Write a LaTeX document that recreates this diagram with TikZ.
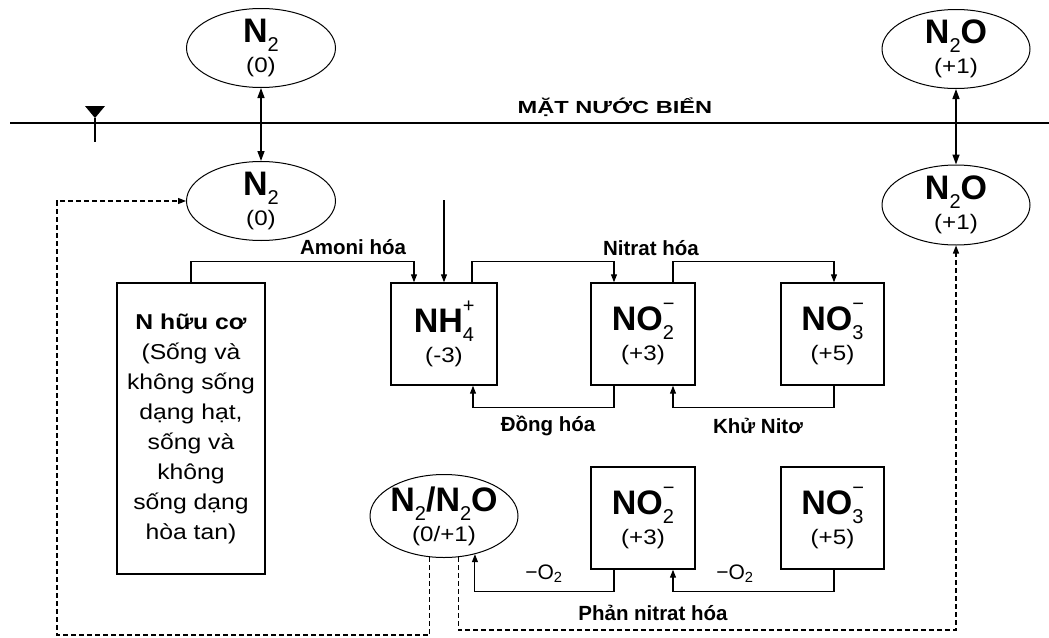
\documentclass[tikz,border=0pt]{standalone}
\usepackage{fontspec}
\setmainfont{Liberation Sans}
\newfontfamily\widefont[FakeStretch=1.15]{Liberation Sans}
\newfontfamily\widerfont[FakeStretch=1.35]{Liberation Sans}
\usepackage{tikz}
\usetikzlibrary{positioning,arrows.meta,shapes.geometric}
\newcommand\chsub[1]{\raisebox{-0.27em}{\fontsize{20}{20}\selectfont\mdseries #1}}
\newcommand\chion[2]{\makebox[0pt][l]{\raisebox{0.6em}{\fontsize{20}{20}\selectfont\mdseries #2}}\chsub{#1}}
\newcommand\formula[1]{{\normalfont\fontsize{34}{34}\selectfont\bfseries #1}}

\begin{document}
\begin{tikzpicture}[x=1pt,y=-1pt,>={Triangle[length=8pt,width=6pt]},
  gasell/.style={draw,ellipse,line width=1pt,inner xsep=-7pt,inner ysep=-7pt,minimum width=149pt,minimum height=79pt,align=center,font=\widefont\fontsize{21}{30}\selectfont},
  ionbox/.style={draw,rectangle,line width=1.4pt,inner sep=0pt,minimum width=104pt,minimum height=102pt,align=center,font=\widefont\fontsize{21}{30}\selectfont},
  flow/.style={->,line width=1.1pt},
  gasflow/.style={{Triangle[length=10pt,width=7pt]}-{Triangle[length=10pt,width=7pt]},line width=1.4pt},
  loop/.style={->,line width=1.2pt,dash pattern=on 5pt off 3pt},
  proc/.style={font=\fontsize{20.5}{24}\selectfont\bfseries}]
\useasboundingbox (0,0) rectangle (1049,637);
% ---------- sea surface ----------
\coordinate (seaw) at (10,123);
\coordinate (seae) at (1049,123);
\draw[line width=1.6pt] (seaw) -- (seae);
\fill (85,106) -- (105,106) -- (95,118) -- cycle;
\draw[line width=1.2pt] (95,118) -- (95,142);
\node[font=\widerfont\fontsize{17.5}{20}\selectfont\bfseries] (lblsea) at (615,107) {MẶT NƯỚC BIỂN};
% ---------- gases ----------
\node[gasell] (n2air) at (261,48) {\formula{N\chsub{2}}\\(0)};
\node[gasell] (n2sea) at (261,201) {\formula{N\chsub{2}}\\(0)};
\node[gasell,minimum width=148pt] (n2oair) at (956,49) {\formula{N\chsub{2}O}\\(+1)};
\node[gasell,minimum width=148pt,minimum height=80pt] (n2osea) at (956,205) {\formula{N\chsub{2}O}\\(+1)};
\draw[gasflow] (n2air) -- (n2sea);
\draw[gasflow] (n2oair) -- (n2osea);
% ---------- upper cycle ----------
\node[ionbox,minimum width=148pt,minimum height=291pt,font=\widefont\fontsize{21.5}{30}\selectfont] (norg) at (191,428.5) {\textbf{N hữu cơ}\\(Sống và\\không sống\\dạng hạt,\\sống và\\không\\sống dạng\\hòa tan)};
\node[ionbox,minimum width=106pt] (nh4) at (444,334) {\formula{NH\chion{4}{+}}\\(-3)};
\node[ionbox] (no2) at (643,334) {\formula{NO\chion{2}{−}}\\(+3)};
\node[ionbox,minimum width=103pt] (no3) at (832.5,334) {\formula{NO\chion{3}{−}}\\(+5)};
\coordinate (nsrc) at (444,200);
\draw[flow] (nsrc) -- (nh4.north);
\draw[flow] (norg.north) -- ++(0,-21) -| ([xshift=-30pt]nh4.north);
\draw[flow] ([xshift=28pt]nh4.north) -- ++(0,-21) -| ([xshift=-29pt]no2.north);
\draw[flow] ([xshift=30pt]no2.north) -- ++(0,-21) -| ([xshift=1.5pt]no3.north);
\draw[flow] ([xshift=-29pt]no2.south) -- ++(0,22) -| ([xshift=29pt]nh4.south);
\draw[flow] ([xshift=1.5pt]no3.south) -- ++(0,22) -| ([xshift=30pt]no2.south);
\node[proc] (lblamoni) at (353,247) {Amoni hóa};
\node[proc] (lblnitrat) at (651,248) {Nitrat hóa};
\node[proc] (lbldong) at (548,426) {Đồng hóa};
\node[proc] (lblkhu) at (758,426) {Khử Nitơ};
% ---------- denitrification ----------
\node[gasell,minimum width=148pt,minimum height=83pt] (mix) at (444,516) {\formula{N\chsub{2}/N\chsub{2}O}\\(0/+1)};
\node[ionbox] (no2b) at (643,518) {\formula{NO\chion{2}{−}}\\(+3)};
\node[ionbox,minimum width=103pt] (no3b) at (832.5,518) {\formula{NO\chion{3}{−}}\\(+5)};
\draw[flow] ([xshift=-29pt]no2b.south) -- ++(0,22) -| (mix.-51);
\draw[flow] ([xshift=1.5pt]no3b.south) -- ++(0,22) -| ([xshift=30pt]no2b.south);
\node[font=\fontsize{21}{24}\selectfont] (lbloxa) at (544,574) {−O\textsubscript{2}};
\node[font=\fontsize{21}{24}\selectfont] (lbloxb) at (735,574) {−O\textsubscript{2}};
\node[proc] (lblphan) at (653,613) {Phản nitrat hóa};
% ---------- return to gases ----------
\coordinate (loopl) at (57,635);
\coordinate (loopr) at (n2osea.south |- 0,630);
\draw[loop] (mix.-109) |- (loopl) |- (n2sea.west);
\draw[loop] (mix.-71) |- (loopr) -- (n2osea.south);
\end{tikzpicture}
\end{document}
